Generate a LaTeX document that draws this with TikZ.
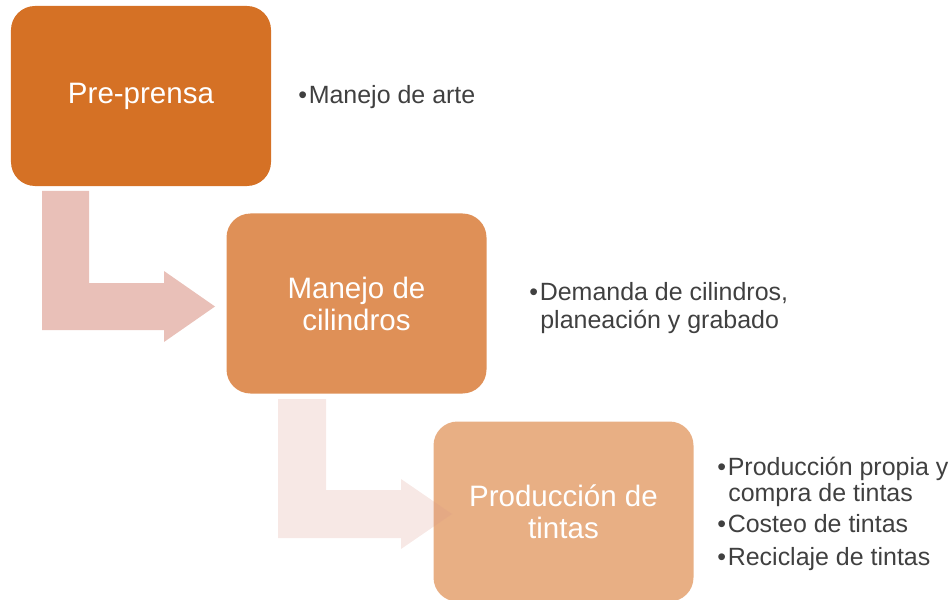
\documentclass[tikz,border=0pt]{standalone}
\usepackage{fontspec}
\setmainfont{Liberation Sans}
\usetikzlibrary{positioning}

\definecolor{cajauno}{RGB}{213,113,37}
\definecolor{cajados}{RGB}{223,144,87}
\definecolor{cajatres}{RGB}{232,175,132}
\definecolor{flechacol}{RGB}{218,150,136}
\definecolor{textogris}{RGB}{64,64,64}

\newcommand{\vin}{\makebox[2.1mm][l]{\textbullet}}

\begin{document}
\begin{tikzpicture}[x=0.2mm,y=-0.2mm,
    caja/.style={rounded corners=4.8mm,minimum width=52mm,minimum height=36mm,
      inner sep=0pt,text=white,align=center,font=\fontsize{16.8}{18.2}\selectfont},
    linea/.style={anchor=base west,inner sep=0pt,text=textogris,font=\fontsize{14.2}{15.6}\selectfont}]
  \useasboundingbox (0,0) rectangle (951,600);

  % cajas
  \node[caja,fill=cajauno] (prep) at (141,96) {Pre-prensa};
  \node[caja,fill=cajados] (cil) at (356.5,303.5) {Manejo de\\cilindros};
  \node[caja,fill=cajatres] (tin) at (563.5,511.5) {Producción de\\tintas};

  % flechas dobladas
  \fill[flechacol,opacity=0.6] (42,191) -- (89,191) -- (89,283) -- (164,283) -- (164,271)
    -- (215,306.5) -- (164,342) -- (164,330) -- (42,330) -- cycle;
  \fill[flechacol,opacity=0.22] (278,399) -- (326,399) -- (326,490) -- (401,490) -- (401,479)
    -- (452,514) -- (401,549) -- (401,538) -- (278,538) -- cycle;

  % textos
  \node[linea] (arte) at (298,104) {\vin Manejo de arte};
  \node[linea] (dem) at (529,300) {\vin Demanda de cilindros,};
  \node[linea] (plan) at (540,328) {planeación y grabado};
  \node[linea] (prod) at (717,475) {\vin Producción propia y};
  \node[linea] (comp) at (728,501) {compra de tintas};
  \node[linea] (cost) at (717,532) {\vin Costeo de tintas};
  \node[linea] (rec) at (717,565) {\vin Reciclaje de tintas};
\end{tikzpicture}
\end{document}
